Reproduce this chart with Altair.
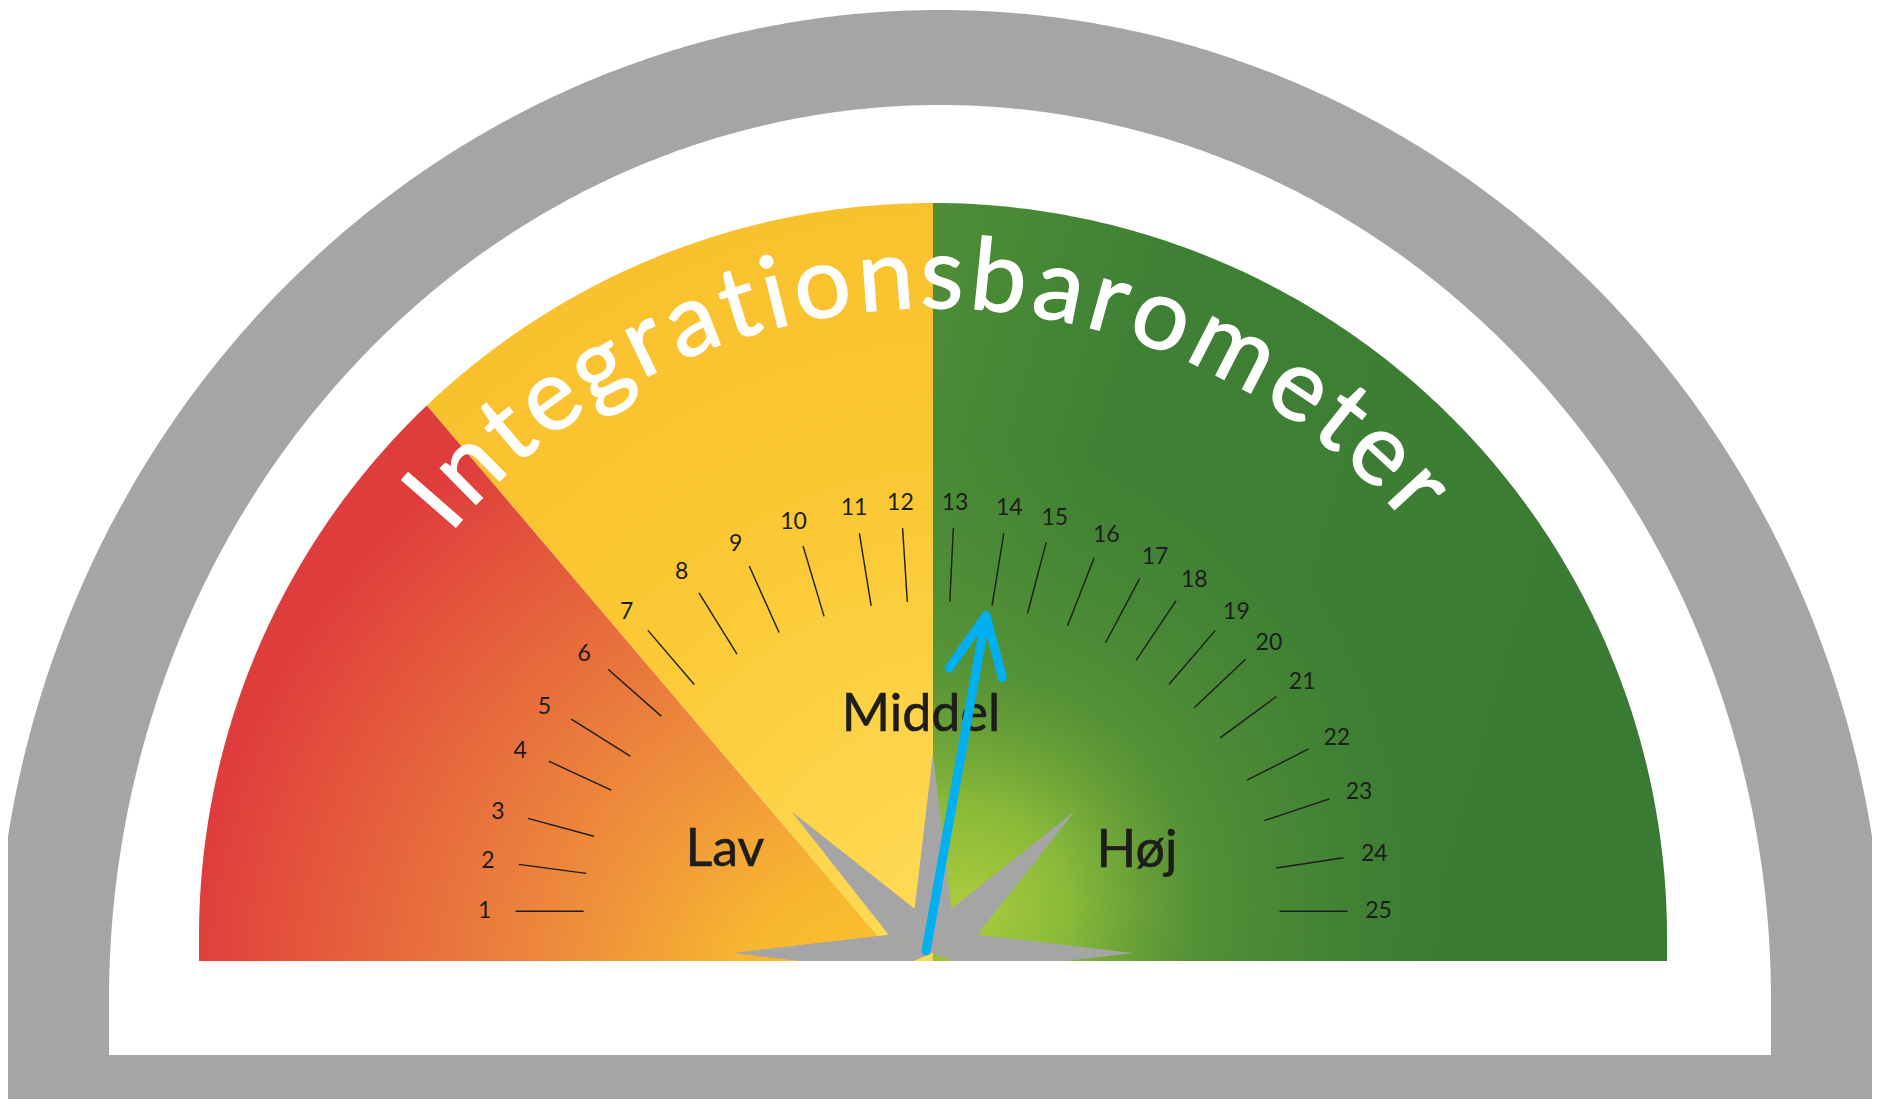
import math
import altair as alt
import pandas as pd

# ---------------- values ----------------
tick_values = list(range(1, 26))
tick_angles_deg = [180, 173, 166, 157, 150, 141, 133, 124, 116, 108, 100, 94,
                   87, 80, 74, 67, 60, 54, 47, 41, 34, 25, 17, 8, 0]
zone_names = ["Lav", "Middel", "Høj"]
needle_value = 13.9
title_text = "Integrationsbarometer"

# ---------------- layout / style ----------------
X0, Y0, W, H = 8, 8, 1864, 1091
GRAY = "#a5a5a5"
INK = "#1d1d1b"
NEEDLE = "#00b0f0"
FONT = "Lato"

ARCH_C = (940.0, 1000.0)
ARCH_OUT = (945.0, 990.0)
ARCH_IN = (831.0, 895.0)
ARCH_IN_BOTTOM = 1055.0
PAGE_BOTTOM = 1110.0

FACE_C = (933.0, 937.0)
FACE_R = 734.0
FACE_BOTTOM = 961.0
SPLIT_LOW_DEG = 133.6
SPLIT_LOW_FOOT = 899.0

DIAL_C = (931.6, 911.2)
TICK_IN = (348.0, 310.0)
TICK_OUT = (416.0, 384.0)
LABEL_R = (447.0, 409.0)

STAR_C = (933.0, 953.0)
STAR_R, STAR_r = 200.0, 48.0
NEEDLE_BASE = (926.0, 951.0)

TITLE_R = 629.0
TITLE_FROM, TITLE_TO = 138.9, 42.6
TITLE_SIZE = 100
ZONE_POS = {"Lav": (725, 866), "Middel": (921, 731), "Høj": (1137, 867)}
CHAR_W = {'I': 0.27, 'n': 0.56, 't': 0.36, 'e': 0.53, 'g': 0.50, 'r': 0.38,
          'a': 0.50, 'i': 0.24, 'o': 0.57, 's': 0.42, 'b': 0.57, 'm': 0.84}


def lin(a, b, n):
    return [a + (b - a) * i / (n - 1) for i in range(n)]


def ell(c, rr, deg):
    t = math.radians(deg)
    return c[0] + rr[0] * math.cos(t), c[1] - rr[1] * math.sin(t)


# ---------------- gray arch and white inner ----------------
def arch_rows(c, rr, bottom, n=400):
    rows = []
    for deg in lin(180, 0, n):
        x, y = ell(c, rr, deg)
        rows.append(dict(x=x, y=y, y2=bottom))
    return rows

outer_df = pd.DataFrame(arch_rows(ARCH_C, ARCH_OUT, PAGE_BOTTOM))
inner_df = pd.DataFrame(arch_rows(ARCH_C, ARCH_IN, ARCH_IN_BOTTOM))

# ---------------- gauge face ----------------
FR = (FACE_R, FACE_R)
bx, by = ell(FACE_C, FR, SPLIT_LOW_DEG)


def split_y(x):
    return by + (x - bx) * (FACE_BOTTOM - by) / (SPLIT_LOW_FOOT - bx)


def rim_top(x):
    return FACE_C[1] - math.sqrt(max(FACE_R ** 2 - (x - FACE_C[0]) ** 2, 0))

hoj_rows = []
for deg in lin(0, 90, 200):
    x, y = ell(FACE_C, FR, deg)
    hoj_rows.append(dict(x=x, y=y, y2=FACE_BOTTOM))
hoj_df = pd.DataFrame(hoj_rows).sort_values("x")

mid_rows = []
for deg in lin(90, SPLIT_LOW_DEG, 120):
    x, y = ell(FACE_C, FR, deg)
    y2 = split_y(x) if x < SPLIT_LOW_FOOT else FACE_BOTTOM
    mid_rows.append(dict(x=x, y=y, y2=min(y2, FACE_BOTTOM)))
mid_rows.append(dict(x=SPLIT_LOW_FOOT, y=rim_top(SPLIT_LOW_FOOT), y2=FACE_BOTTOM))
mid_df = pd.DataFrame(mid_rows).sort_values("x")

lav_rows = []
for deg in lin(SPLIT_LOW_DEG, 180, 150):
    x, y = ell(FACE_C, FR, deg)
    lav_rows.append(dict(x=x, y=y, y2=FACE_BOTTOM))
lav_rows.append(dict(x=SPLIT_LOW_FOOT, y=FACE_BOTTOM, y2=FACE_BOTTOM))
lav_df = pd.DataFrame(lav_rows).sort_values("x")

# ---------------- ticks and labels ----------------
tick_rows = []
for v, a in zip(tick_values, tick_angles_deg):
    xi, yi = ell(DIAL_C, TICK_IN, a)
    xo, yo = ell(DIAL_C, TICK_OUT, a)
    lx, ly = ell(DIAL_C, LABEL_R, a)
    tick_rows.append(dict(v=str(v), x=xi, y=yi, x2=xo, y2=yo, lx=lx, ly=ly))
tick_df = pd.DataFrame(tick_rows)
label_df = tick_df[["v", "lx", "ly"]].rename(columns={"lx": "x", "ly": "y"})

zone_df = pd.DataFrame([dict(t=z, x=ZONE_POS[z][0], y=ZONE_POS[z][1]) for z in zone_names])

# ---------------- star hub ----------------
def convex_to_area(poly, gid):
    xs = sorted(set(round(p[0], 6) for p in poly))
    rows = []
    n = len(poly)
    for x in xs:
        ys = []
        for i in range(n):
            (x1, y1), (x2, y2) = poly[i], poly[(i + 1) % n]
            if abs(x1 - x2) < 1e-9:
                if abs(x1 - x) < 1e-6:
                    ys += [y1, y2]
            elif min(x1, x2) - 1e-6 <= x <= max(x1, x2) + 1e-6:
                t = (x - x1) / (x2 - x1)
                ys.append(y1 + t * (y2 - y1))
        rows.append(dict(x=x, y=min(ys), y2=max(ys), g=gid))
    return rows

star_rows = []
for k, phi in enumerate([0, 45, 90, 135, 180]):
    poly = [STAR_C,
            ell(STAR_C, (STAR_r, STAR_r), phi - 22.5),
            ell(STAR_C, (STAR_R, STAR_R), phi),
            ell(STAR_C, (STAR_r, STAR_r), phi + 22.5)]
    star_rows += convex_to_area(poly, k)
star_df = pd.DataFrame(star_rows)

band_df = pd.DataFrame([dict(x=700, x2=1170, y=FACE_BOTTOM, y2=1000)])

# ---------------- needle ----------------
i0 = int(math.floor(needle_value)) - 1
f = needle_value - (i0 + 1)
needle_deg = tick_angles_deg[i0] + f * (tick_angles_deg[i0 + 1] - tick_angles_deg[i0])
px, py = ell(DIAL_C, TICK_IN, needle_deg)
bx0, by0 = NEEDLE_BASE
tx, ty = bx0 + 0.97 * (px - bx0), by0 + 0.97 * (py - by0)
L = math.hypot(bx0 - tx, by0 - ty)
ux, uy = (bx0 - tx) / L, (by0 - ty) / L
needle_rows = [dict(x=bx0, y=by0, x2=tx, y2=ty)]
for a in (25, -25):
    r = math.radians(a)
    vx = ux * math.cos(r) - uy * math.sin(r)
    vy = ux * math.sin(r) + uy * math.cos(r)
    needle_rows.append(dict(x=tx, y=ty, x2=tx + 64 * vx, y2=ty + 64 * vy))
needle_df = pd.DataFrame(needle_rows)

# ---------------- curved title ----------------
track = 0.06
s, pos = 0.0, []
for ch in title_text:
    w = CHAR_W.get(ch, 0.5)
    pos.append(s + w / 2)
    s += w + track
title_rows = []
for ch, p in zip(title_text, pos):
    deg = TITLE_FROM + (p - pos[0]) / (pos[-1] - pos[0]) * (TITLE_TO - TITLE_FROM)
    x, y = ell(FACE_C, (TITLE_R, TITLE_R), deg)
    title_rows.append(dict(ch=ch, x=x, y=y, rot=(90 - deg) % 360))
title_df = pd.DataFrame(title_rows)

# ---------------- encodings ----------------
xs = alt.Scale(domain=[X0, X0 + W], nice=False, zero=False, clamp=True)
ys = alt.Scale(domain=[Y0 + H, Y0], nice=False, zero=False, clamp=True)
X = alt.X("x:Q", scale=xs, axis=None)
Y = alt.Y("y:Q", scale=ys, axis=None, stack=None)


def stops(pairs):
    return [{"offset": o, "color": c} for o, c in pairs]

lav_grad = {"gradient": "radial", "x1": 0.973, "y1": 0.98, "r1": 0,
            "x2": 0.973, "y2": 0.98, "r2": 1.0,
            "stops": stops([(0, "#fbc82c"), (0.22, "#f7b530"), (0.42, "#ef933b"),
                            (0.65, "#e8713d"), (0.85, "#e3533c"), (1, "#df3c3c")])}
mid_grad = {"gradient": "radial", "x1": 0.9, "y1": 1.0, "r1": 0,
            "x2": 0.9, "y2": 1.0, "r2": 1.0,
            "stops": stops([(0, "#fedd5a"), (0.3, "#fdd449"), (0.6, "#fbc935"), (1, "#f9c12d")])}
hoj_base = {"gradient": "linear", "x1": 0, "y1": 0, "x2": 1, "y2": 0.3,
            "stops": stops([(0, "#4f8e37"), (0.3, "#3f8134"), (1, "#3a7b33")])}
hoj_glow = {"gradient": "radial", "x1": 0.06, "y1": 0.93, "r1": 0,
            "x2": 0.06, "y2": 0.93, "r2": 0.62,
            "stops": stops([(0, "rgba(172,205,60,1)"), (0.22, "rgba(150,195,58,0.85)"),
                            (0.5, "rgba(115,168,58,0.42)"), (1, "rgba(90,150,56,0)")])}

layers = [
    alt.Chart(outer_df).mark_area(color=GRAY).encode(x=X, y=Y, y2="y2:Q"),
    alt.Chart(inner_df).mark_area(color="white").encode(x=X, y=Y, y2="y2:Q"),
    alt.Chart(hoj_df).mark_area(color=hoj_base).encode(x=X, y=Y, y2="y2:Q"),
    alt.Chart(hoj_df).mark_area(color=hoj_glow).encode(x=X, y=Y, y2="y2:Q"),
    alt.Chart(mid_df).mark_area(color=mid_grad).encode(x=X, y=Y, y2="y2:Q"),
    alt.Chart(lav_df).mark_area(color=lav_grad).encode(x=X, y=Y, y2="y2:Q"),
    alt.Chart(tick_df).mark_rule(color=INK, strokeWidth=1.4).encode(
        x=X, y=Y, x2="x2:Q", y2="y2:Q"),
    alt.Chart(label_df).mark_text(font=FONT, fontSize=23, color=INK, align="center",
                                  baseline="middle").encode(x=X, y=Y, text="v:N"),
    alt.Chart(zone_df).mark_text(font=FONT, fontSize=52, color=INK, align="center",
                                 baseline="alphabetic", stroke=INK, strokeWidth=0.6).encode(
        x=X, y=Y, text="t:N"),
    alt.Chart(star_df).mark_area(color=GRAY).encode(x=X, y=Y, y2="y2:Q", detail="g:N"),
    alt.Chart(band_df).mark_rect(color="white").encode(x=X, x2="x2:Q", y=Y, y2="y2:Q"),
    alt.Chart(needle_df).mark_rule(color=NEEDLE, strokeWidth=9, strokeCap="round").encode(
        x=X, y=Y, x2="x2:Q", y2="y2:Q"),
    alt.Chart(title_df).mark_text(font=FONT, fontSize=TITLE_SIZE, color="white",
                                  stroke="white", strokeWidth=1.3,
                                  align="center", baseline="alphabetic").encode(
        x=X, y=Y, text="ch:N", angle=alt.Angle("rot:Q", scale=None)),
]

chart = alt.layer(*layers).properties(
    width=W, height=H, padding=0, background="white",
    autosize=alt.AutoSizeParams(type="none"),
).configure_view(stroke=None)

chart.save("out.html", embed_options={"renderer": "svg", "actions": False})
